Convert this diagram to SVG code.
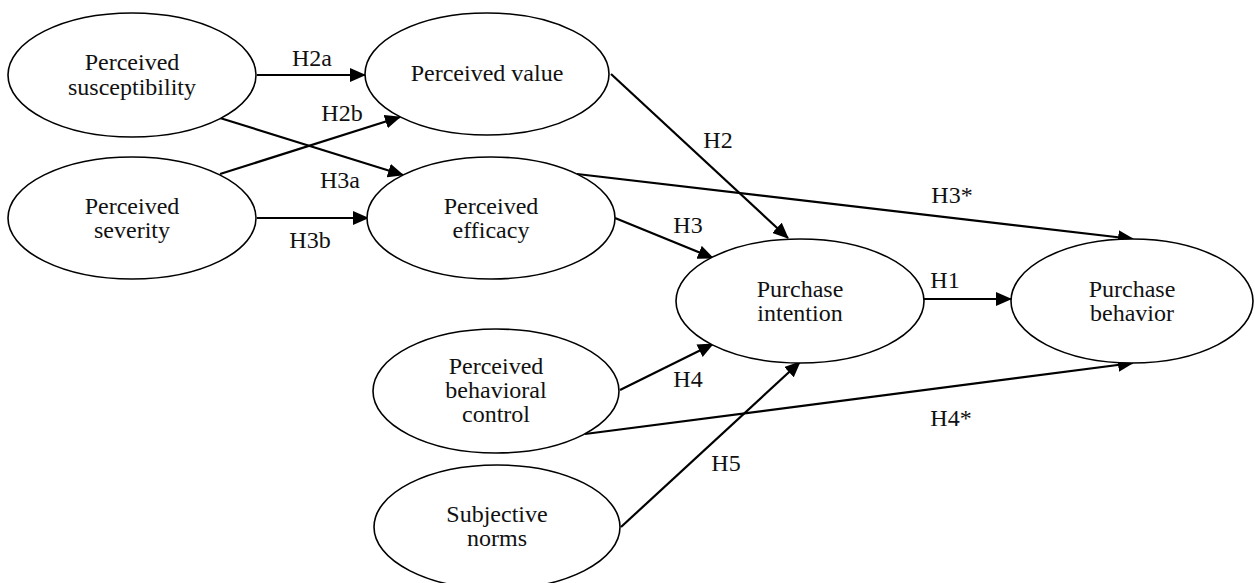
<svg xmlns="http://www.w3.org/2000/svg" width="1255" height="583" viewBox="0 0 1255 583">
<style>
.n{fill:#fff;stroke:#000;stroke-width:1.6}
.t{font-family:"Liberation Serif","Times New Roman",serif;font-size:24px;fill:#111;text-anchor:middle}
.e{stroke:#000;stroke-width:2.2;fill:none;marker-end:url(#ah)}
</style>
<defs>
<marker id="ah" markerUnits="userSpaceOnUse" markerWidth="16" markerHeight="14" refX="15" refY="7" orient="auto">
<path d="M0,0 L16,7 L0,14 z" fill="#000"/>
</marker>
</defs>
<rect width="1255" height="583" fill="#fff"/>
<g id="connectors">
<line class="e" x1="257" y1="75" x2="365" y2="75"/>
<line class="e" x1="220" y1="174" x2="400" y2="117"/>
<line class="e" x1="220" y1="118" x2="403" y2="175"/>
<line class="e" x1="257" y1="218" x2="368" y2="218"/>
<line class="e" x1="611" y1="74" x2="788" y2="238"/>
<line class="e" x1="615" y1="218" x2="713" y2="258"/>
<line class="e" x1="577" y1="174" x2="1133" y2="239"/>
<line class="e" x1="924" y1="299" x2="1011" y2="299"/>
<line class="e" x1="620" y1="390" x2="713" y2="344"/>
<line class="e" x1="585" y1="434" x2="1133" y2="363"/>
<line class="e" x1="621" y1="527" x2="800" y2="362"/>
<text class="t" x="312" y="66">H2a</text>
<text class="t" x="342" y="121">H2b</text>
<text class="t" x="340" y="188">H3a</text>
<text class="t" x="310" y="248">H3b</text>
<text class="t" x="718" y="148">H2</text>
<text class="t" x="952" y="203">H3*</text>
<text class="t" x="688" y="233">H3</text>
<text class="t" x="945" y="288">H1</text>
<text class="t" x="688" y="387">H4</text>
<text class="t" x="726" y="471">H5</text>
<text class="t" x="951" y="426">H4*</text>
</g>
<g id="susceptibility">
<ellipse class="n" cx="132" cy="75" rx="124" ry="62"/>
<text class="t" x="132" y="70">Perceived</text>
<text class="t" x="132" y="95">susceptibility</text>
</g>
<g id="severity">
<ellipse class="n" cx="132" cy="218" rx="124" ry="61"/>
<text class="t" x="132" y="214">Perceived</text>
<text class="t" x="132" y="238">severity</text>
</g>
<g id="value">
<ellipse class="n" cx="487" cy="74" rx="122" ry="61"/>
<text class="t" x="487" y="81">Perceived value</text>
</g>
<g id="efficacy">
<ellipse class="n" cx="491" cy="218" rx="124" ry="61"/>
<text class="t" x="491" y="214">Perceived</text>
<text class="t" x="491" y="238">efficacy</text>
</g>
<g id="intention">
<ellipse class="n" cx="800" cy="301" rx="124" ry="62"/>
<text class="t" x="800" y="297">Purchase</text>
<text class="t" x="800" y="321">intention</text>
</g>
<g id="behavior">
<ellipse class="n" cx="1132" cy="301" rx="121" ry="62"/>
<text class="t" x="1132" y="297">Purchase</text>
<text class="t" x="1132" y="321">behavior</text>
</g>
<g id="control">
<ellipse class="n" cx="496" cy="391" rx="123" ry="62"/>
<text class="t" x="496" y="374">Perceived</text>
<text class="t" x="496" y="398">behavioral</text>
<text class="t" x="496" y="422">control</text>
</g>
<g id="norms">
<ellipse class="n" cx="497" cy="527" rx="123" ry="62"/>
<text class="t" x="497" y="522">Subjective</text>
<text class="t" x="497" y="546">norms</text>
</g>
</svg>
